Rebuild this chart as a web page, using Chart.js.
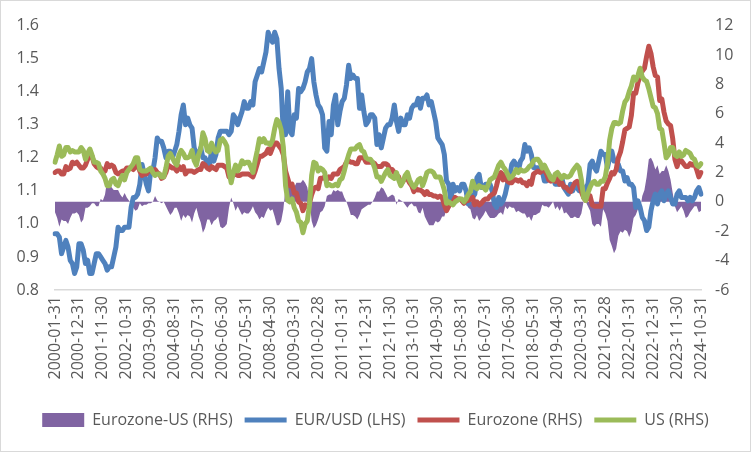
<!DOCTYPE html>
<html>
<head>
<meta charset="utf-8">
<script src="https://cdn.jsdelivr.net/npm/chart.js@4.4.1/dist/chart.umd.min.js"></script>
<style>
  html, body { margin: 0; padding: 0; background: #ffffff; }
  #wrap { width: 751px; height: 452px; position: relative; }
</style>
</head>
<body>
<div id="wrap"><canvas id="c" width="751" height="452"></canvas></div>
<script>
// ---------- DATA ----------
const startYear = 2000, startMonth = 1, endYear = 2024, endMonth = 10;

// EUR/USD month-end (LHS)
const eurUsd = [
  0.97,0.97,0.96,0.91,0.93,0.95,0.93,0.89,0.88,0.85,0.87,0.94,
  0.94,0.92,0.88,0.89,0.85,0.85,0.88,0.91,0.91,0.90,0.89,0.88,
  0.86,0.87,0.87,0.90,0.93,0.99,0.98,0.98,0.99,0.99,0.99,1.05,
  1.08,1.08,1.09,1.12,1.18,1.15,1.12,1.10,1.16,1.16,1.20,1.26,
  1.25,1.25,1.23,1.20,1.22,1.22,1.20,1.22,1.24,1.28,1.33,1.36,
  1.30,1.32,1.30,1.29,1.23,1.21,1.21,1.23,1.20,1.20,1.18,1.18,
  1.22,1.19,1.21,1.26,1.28,1.28,1.28,1.28,1.27,1.28,1.33,1.32,
  1.30,1.32,1.34,1.37,1.35,1.35,1.37,1.36,1.43,1.45,1.47,1.46,
  1.49,1.52,1.58,1.56,1.55,1.58,1.56,1.47,1.41,1.27,1.27,1.40,
  1.28,1.27,1.33,1.32,1.41,1.40,1.41,1.43,1.46,1.47,1.50,1.43,
  1.39,1.36,1.35,1.33,1.23,1.22,1.31,1.27,1.36,1.39,1.30,1.34,
  1.37,1.38,1.42,1.48,1.44,1.45,1.44,1.44,1.35,1.39,1.34,1.30,
  1.31,1.33,1.33,1.32,1.24,1.27,1.23,1.26,1.29,1.30,1.30,1.32,
  1.36,1.31,1.28,1.32,1.30,1.30,1.33,1.32,1.35,1.36,1.36,1.38,
  1.35,1.38,1.38,1.39,1.36,1.37,1.34,1.31,1.26,1.25,1.24,1.21,
  1.13,1.12,1.07,1.12,1.10,1.11,1.10,1.12,1.12,1.10,1.06,1.09,
  1.08,1.09,1.14,1.15,1.11,1.11,1.12,1.12,1.12,1.10,1.06,1.05,
  1.08,1.06,1.07,1.09,1.12,1.14,1.18,1.19,1.18,1.16,1.19,1.20,
  1.24,1.22,1.23,1.21,1.17,1.17,1.17,1.16,1.16,1.13,1.13,1.15,
  1.14,1.14,1.12,1.12,1.12,1.14,1.11,1.10,1.09,1.12,1.10,1.12,
  1.11,1.10,1.10,1.09,1.11,1.12,1.18,1.19,1.17,1.16,1.19,1.22,
  1.21,1.21,1.17,1.20,1.22,1.19,1.19,1.18,1.16,1.16,1.13,1.14,
  1.12,1.12,1.11,1.05,1.07,1.05,1.02,1.01,0.98,0.99,1.04,1.07,
  1.09,1.06,1.09,1.10,1.07,1.09,1.10,1.08,1.06,1.06,1.09,1.10,
  1.08,1.08,1.08,1.07,1.08,1.07,1.08,1.10,1.11,1.09
];

// Eurozone inflation, % y/y (RHS)
const eurozone = [
  2.0,2.1,2.1,1.9,1.9,2.4,2.2,2.3,2.7,2.6,2.7,2.5,
  2.3,2.3,2.5,2.9,3.3,3.1,2.6,2.4,2.3,2.3,2.0,2.1,
  2.6,2.4,2.5,2.4,2.0,1.9,2.0,2.1,2.1,2.3,2.3,2.3,
  2.2,2.4,2.5,2.1,1.8,1.9,1.9,2.1,2.2,2.0,2.2,2.0,
  1.9,1.6,1.7,2.0,2.5,2.4,2.3,2.3,2.1,2.4,2.2,2.4,
  1.9,2.1,2.1,2.1,2.0,2.1,2.2,2.2,2.6,2.5,2.3,2.2,
  2.4,2.3,2.2,2.5,2.5,2.5,2.4,2.3,1.7,1.6,1.9,1.9,
  1.8,1.8,1.9,1.9,1.9,1.9,1.8,1.7,2.1,2.6,3.1,3.1,
  3.2,3.3,3.6,3.3,3.7,4.0,4.0,3.8,3.6,3.2,2.1,1.6,
  1.1,1.2,0.6,0.6,0.0,-0.1,-0.6,-0.2,-0.3,-0.1,0.5,0.9,
  1.0,0.9,1.6,1.6,1.7,1.5,1.7,1.6,1.9,1.9,1.9,2.2,
  2.3,2.4,2.7,2.8,2.7,2.7,2.6,2.6,3.0,3.0,3.0,2.7,
  2.7,2.7,2.7,2.6,2.4,2.4,2.4,2.6,2.6,2.5,2.2,2.2,
  2.0,1.8,1.7,1.2,1.4,1.6,1.6,1.3,1.1,0.7,0.9,0.8,
  0.8,0.7,0.5,0.7,0.5,0.5,0.4,0.4,0.3,0.4,0.3,-0.2,
  -0.6,-0.3,-0.1,0.0,0.3,0.2,0.2,0.1,-0.1,0.1,0.1,0.2,
  0.3,-0.2,0.0,-0.2,-0.1,0.1,0.2,0.2,0.4,0.5,0.6,1.1,
  1.7,2.0,1.5,1.9,1.4,1.3,1.3,1.5,1.5,1.4,1.5,1.3,
  1.3,1.1,1.4,1.2,1.9,2.0,2.1,2.0,2.1,2.2,1.9,1.5,
  1.4,1.5,1.4,1.7,1.2,1.3,1.0,1.0,0.8,0.7,1.0,1.3,
  1.4,1.2,0.7,0.3,0.1,0.3,0.4,-0.2,-0.3,-0.3,-0.3,-0.3,
  0.9,0.9,1.3,1.6,2.0,1.9,2.2,3.0,3.4,4.1,4.9,5.0,
  5.1,5.9,7.4,7.4,8.1,8.6,8.9,9.1,9.9,10.6,10.1,9.2,
  8.6,8.5,6.9,7.0,6.1,5.5,5.3,5.2,4.3,2.9,2.4,2.9,
  2.8,2.6,2.4,2.4,2.6,2.5,2.6,2.2,1.7,2.0
];

// US inflation, % y/y (RHS)
const us = [
  2.7,3.2,3.8,3.1,3.2,3.7,3.7,3.4,3.5,3.4,3.4,3.4,
  3.7,3.5,2.9,3.3,3.6,3.2,2.7,2.7,2.6,2.1,1.9,1.6,
  1.1,1.1,1.5,1.6,1.2,1.1,1.5,1.8,1.5,2.0,2.2,2.4,
  2.6,3.0,3.0,2.2,2.1,2.1,2.1,2.2,2.3,2.0,1.8,1.9,
  1.9,1.7,1.7,2.3,3.1,3.3,3.0,2.7,2.5,3.2,3.5,3.3,
  3.0,3.0,3.1,3.5,2.8,2.5,3.2,3.6,4.7,4.3,3.5,3.4,
  4.0,3.6,3.4,3.5,4.2,4.3,4.1,3.8,2.1,1.3,2.0,2.5,
  2.1,2.4,2.8,2.6,2.7,2.7,2.4,2.0,2.8,3.5,4.3,4.1,
  4.3,4.0,4.0,3.9,4.2,5.0,5.6,5.4,4.9,3.7,1.1,0.1,
  0.0,0.2,-0.4,-0.7,-1.3,-1.4,-2.1,-1.5,-1.3,-0.2,1.8,2.7,
  2.6,2.1,2.3,2.2,2.0,1.1,1.2,1.1,1.1,1.2,1.1,1.5,
  1.6,2.1,2.7,3.2,3.6,3.6,3.6,3.8,3.9,3.5,3.4,3.0,
  2.9,2.9,2.7,2.3,1.7,1.7,1.4,1.7,2.0,2.2,1.8,1.7,
  1.6,2.0,1.5,1.1,1.4,1.8,2.0,1.5,1.2,1.0,1.2,1.5,
  1.6,1.1,1.5,2.0,2.1,2.1,2.0,1.7,1.7,1.7,1.3,0.8,
  -0.1,0.0,-0.1,-0.2,0.0,0.1,0.2,0.2,0.0,0.2,0.5,0.7,
  1.4,1.0,0.9,1.1,1.0,1.0,0.8,1.1,1.5,1.6,1.7,2.1,
  2.5,2.7,2.4,2.2,1.9,1.6,1.7,1.9,2.2,2.0,2.2,2.1,
  2.1,2.2,2.4,2.5,2.8,2.9,2.9,2.7,2.3,2.5,2.2,1.9,
  1.6,1.5,1.9,2.0,1.8,1.6,1.8,1.7,1.7,1.8,2.1,2.3,
  2.5,2.3,1.5,0.3,0.1,0.6,1.0,1.3,1.4,1.2,1.2,1.4,
  1.4,1.7,2.6,4.2,5.0,5.4,5.4,5.3,5.4,6.2,6.8,7.0,
  7.5,7.9,8.5,8.3,8.6,9.1,8.5,8.3,8.2,7.7,7.1,6.5,
  6.4,6.0,5.0,4.9,4.0,3.0,3.2,3.7,3.7,3.2,3.1,3.4,
  3.1,3.2,3.5,3.4,3.3,3.0,2.9,2.5,2.4,2.6
];

// Eurozone minus US, percentage points (RHS)
const ezMinusUs = [
  -0.7,-1.1,-1.7,-1.2,-1.3,-1.3,-1.5,-1.1,-0.8,-0.8,-0.7,-0.9,
  -1.4,-1.2,-0.4,-0.4,-0.3,-0.1,-0.1,-0.3,-0.3,0.2,0.1,0.5,
  1.5,1.3,1.0,0.8,0.8,0.8,0.5,0.3,0.6,0.3,0.1,-0.1,
  -0.4,-0.6,-0.5,-0.1,-0.3,-0.2,-0.2,-0.1,-0.1,0.0,0.4,0.1,
  0.0,-0.1,0.0,-0.3,-0.6,-0.9,-0.7,-0.4,-0.4,-0.8,-1.3,-0.9,
  -1.1,-0.9,-1.0,-1.4,-0.8,-0.4,-1.0,-1.4,-2.1,-1.8,-1.2,-1.2,
  -1.6,-1.3,-1.2,-1.0,-1.7,-1.8,-1.7,-1.5,-0.4,0.3,-0.1,-0.6,
  -0.3,-0.6,-0.9,-0.7,-0.8,-0.8,-0.6,-0.3,-0.7,-0.9,-1.2,-1.0,
  -1.1,-0.7,-0.4,-0.6,-0.5,-1.0,-1.6,-1.6,-1.3,-0.5,1.0,1.5,
  1.1,1.0,1.0,1.3,1.3,1.3,1.5,1.3,1.0,0.1,-1.3,-1.8,
  -1.6,-1.2,-0.7,-0.6,-0.3,0.4,0.5,0.5,0.8,0.7,0.8,0.7,
  0.7,0.3,0.0,-0.4,-0.9,-0.9,-1.0,-1.2,-0.9,-0.5,-0.4,-0.3,
  -0.2,-0.2,0.0,0.3,0.7,0.7,1.0,0.9,0.6,0.3,0.4,0.5,
  0.4,-0.2,0.2,0.1,0.0,-0.2,-0.4,-0.2,-0.1,-0.3,-0.3,-0.7,
  -0.8,-0.4,-1.0,-1.3,-1.6,-1.6,-1.6,-1.3,-1.4,-1.3,-1.0,-1.0,
  -0.5,-0.3,0.0,0.2,0.3,0.1,0.0,-0.1,-0.1,-0.1,-0.4,-0.5,
  -1.1,-1.2,-0.9,-1.3,-1.1,-0.9,-0.6,-0.9,-1.1,-1.1,-1.1,-1.0,
  -0.8,-0.7,-0.9,-0.3,-0.5,-0.3,-0.4,-0.4,-0.7,-0.6,-0.7,-0.8,
  -0.8,-1.1,-1.0,-1.3,-0.9,-0.9,-0.8,-0.7,-0.2,-0.3,-0.3,-0.4,
  -0.2,0.0,-0.5,-0.3,-0.6,-0.3,-0.8,-0.7,-0.9,-1.1,-1.1,-1.0,
  -1.1,-1.1,-0.8,0.0,0.0,-0.3,-0.6,-1.5,-1.7,-1.5,-1.5,-1.7,
  -0.5,-0.8,-1.3,-2.6,-3.0,-3.5,-3.2,-2.3,-2.0,-2.1,-1.9,-2.0,
  -2.4,-2.0,-1.1,-0.9,-0.5,-0.5,0.4,0.8,1.7,2.9,3.0,2.7,
  2.2,2.5,1.9,2.1,2.1,2.5,2.1,1.5,0.6,-0.3,-0.7,-0.5,
  -0.3,-0.6,-1.1,-1.0,-0.7,-0.5,-0.3,-0.3,-0.7,-0.6
];

const lhsTicks = [0.8, 0.9, 1.0, 1.1, 1.2, 1.3, 1.4, 1.5, 1.6];
const rhsTicks = [-6, -4, -2, 0, 2, 4, 6, 8, 10, 12];
const seriesNames = ['Eurozone-US (RHS)', 'EUR/USD (LHS)', 'Eurozone (RHS)', 'US (RHS)'];
const labelEvery = 11;

// month-end date categories
const categories = [];
for (let y = startYear; y <= endYear; y++) {
  for (let m = 1; m <= 12; m++) {
    if (y === startYear && m < startMonth) continue;
    if (y === endYear && m > endMonth) break;
    const last = new Date(Date.UTC(y, m, 0)).getUTCDate();
    categories.push(y + '-' + String(m).padStart(2, '0') + '-' + String(last).padStart(2, '0'));
  }
}

// ---------- STYLE ----------
const FONT = "'Open Sans', 'Noto Sans', sans-serif";
const TXT = '#595959';
const COLORS = { purple: '#8064A2', blue: '#4F81BD', red: '#C0504D', green: '#9BBB59' };

const borderPlugin = {
  id: 'outerBorder',
  afterDraw(chart) {
    const ctx = chart.ctx;
    ctx.save();
    ctx.strokeStyle = '#d9d9d9';
    ctx.lineWidth = 1;
    ctx.strokeRect(0.5, 0.5, chart.width - 1, chart.height - 1);
    ctx.restore();
  },
  beforeDraw(chart) {
    const ctx = chart.ctx;
    ctx.save();
    ctx.fillStyle = '#ffffff';
    ctx.fillRect(0, 0, chart.width, chart.height);
    ctx.restore();
  }
};

const lineCommon = { pointRadius: 0, pointHoverRadius: 0, tension: 0, borderWidth: 5, borderJoinStyle: 'round', borderCapStyle: 'round', fill: false };

new Chart(document.getElementById('c'), {
  type: 'line',
  data: {
    labels: categories,
    datasets: [
      { label: seriesNames[0], data: ezMinusUs, yAxisID: 'y1', order: 4,
        backgroundColor: COLORS.purple, borderColor: COLORS.purple, borderWidth: 0,
        pointRadius: 0, tension: 0, fill: 'origin' },
      Object.assign({ label: seriesNames[1], data: eurUsd, yAxisID: 'y', order: 3,
        borderColor: COLORS.blue, backgroundColor: COLORS.blue }, lineCommon),
      Object.assign({ label: seriesNames[2], data: eurozone, yAxisID: 'y1', order: 2,
        borderColor: COLORS.red, backgroundColor: COLORS.red }, lineCommon),
      Object.assign({ label: seriesNames[3], data: us, yAxisID: 'y1', order: 1,
        borderColor: COLORS.green, backgroundColor: COLORS.green }, lineCommon)
    ]
  },
  options: {
    responsive: false,
    animation: false,
    events: [],
    layout: { padding: { top: 24, left: 0, right: 0, bottom: 14 } },
    plugins: {
      tooltip: { enabled: false },
      legend: {
        position: 'bottom',
        labels: {
          font: { family: FONT, size: 16 },
          color: TXT,
          usePointStyle: true,
          pointStyleWidth: 42,
          boxHeight: 14,
          padding: 12,
          generateLabels(chart) {
            return chart.data.datasets.map((ds, i) => ({
              text: ds.label,
              datasetIndex: i,
              pointStyle: i === 0 ? 'rect' : 'line',
              fillStyle: i === 0 ? ds.backgroundColor : ds.borderColor,
              strokeStyle: i === 0 ? ds.backgroundColor : ds.borderColor,
              lineWidth: i === 0 ? 0 : 5,
              fontColor: TXT,
              hidden: false
            }));
          }
        }
      }
    },
    scales: {
      x: {
        type: 'category',
        offset: false,
        grid: { display: false, drawTicks: false },
        border: { display: true, color: '#d9d9d9', width: 1.5 },
        ticks: {
          autoSkip: false,
          minRotation: 90,
          maxRotation: 90,
          padding: 6,
          color: TXT,
          font: { family: FONT, size: 16 },
          callback(value, index) { return index % labelEvery === 0 ? categories[index] : ''; }
        },
        afterFit(scale) { scale.height = 110; }
      },
      y: {
        position: 'left',
        min: 0.8, max: 1.6,
        grid: { display: false, drawTicks: false },
        border: { display: false },
        afterBuildTicks(scale) { scale.ticks = lhsTicks.map(v => ({ value: v })); },
        ticks: { color: TXT, font: { family: FONT, size: 16 }, padding: 16,
                 callback: v => Number(v).toFixed(1) },
        afterFit(scale) { scale.width = 55; }
      },
      y1: {
        position: 'right',
        min: -6, max: 12,
        grid: { display: false, drawTicks: false },
        border: { display: false },
        afterBuildTicks(scale) { scale.ticks = rhsTicks.map(v => ({ value: v })); },
        ticks: { color: TXT, font: { family: FONT, size: 16 }, padding: 14 },
        afterFit(scale) { scale.width = 50; }
      }
    }
  },
  plugins: [borderPlugin]
});
</script>
</body>
</html>
